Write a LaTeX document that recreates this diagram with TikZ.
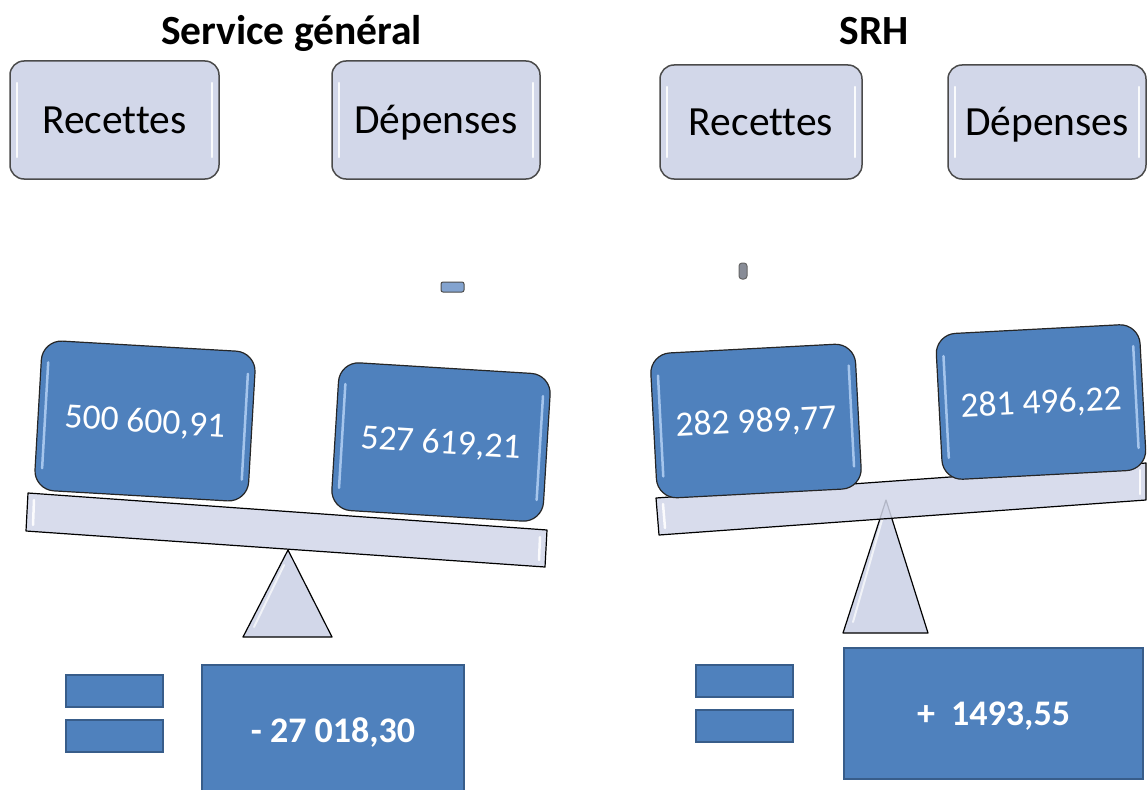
\documentclass[tikz,border=0pt]{standalone}
\usepackage{fontspec}
\setmainfont[Ligatures=NoCommon]{Carlito}
\usetikzlibrary{calc}
\definecolor{lav}{RGB}{210,215,233}
\definecolor{obl}{RGB}{79,129,189}
\definecolor{obd}{RGB}{56,93,138}
\definecolor{hlb}{RGB}{175,205,242}
\definecolor{boxedge}{RGB}{75,75,75}
\newcommand{\glossbox}[6]{%
  \begin{scope}[shift={(#1,#2)}, rotate=#3]
    \draw[#6] ({-#4+7},{-#5+22}) -- ({-#4+7},{#5-22});
    \draw[#6] ({#4-7},{-#5+22}) -- ({#4-7},{#5-22});
  \end{scope}}
\begin{document}
\begin{tikzpicture}[x=1pt,y=-1pt,
  title/.style={font=\bfseries\fontsize{41.5}{48}\selectfont, anchor=base, inner sep=0pt},
  topbox/.style={draw=boxedge, line width=1.5pt, fill=lav, rounded corners=14pt,
    inner sep=0pt, font=\fontsize{41.5}{48}\selectfont, text height=26.5pt, text depth=0pt},
  numbox/.style={draw=black!85, line width=1.2pt, fill=obl, rounded corners=20pt,
    inner sep=0pt, text=white, font=\fontsize{35.5}{42}\selectfont, text height=23pt, text depth=0pt},
  resbox/.style={draw=obd, line width=2pt, fill=obl, inner sep=0pt, text=white,
    font=\bfseries\fontsize{36}{43}\selectfont, text height=23pt, text depth=0pt},
  eqbar/.style={draw=obd, line width=2pt, fill=obl, inner sep=0pt,
    minimum width=97pt, minimum height=32pt},
  tri/.style={draw=black, line width=1.2pt, fill=lav, line join=round},
  beam/.style={draw=black, line width=1.2pt, fill=lav, fill opacity=0.85, line join=round},
  glossw/.style={white, line width=2.5pt, line cap=round, opacity=0.9},
  glossb/.style={hlb, line width=2.5pt, line cap=round, opacity=0.9}
]
\useasboundingbox[fill=white] (0,0) rectangle (1147,789);

% titles
\node[title] (t1) at (291.5,45) {Service général};
\node[title] (t2) at (874,45) {SRH};

% top boxes
\node[topbox, minimum width=209pt, minimum height=118pt] (r1) at (114.5,120) {Recettes};
\node[topbox, minimum width=208pt, minimum height=118pt] (d1) at (436,120) {Dépenses};
\node[topbox, minimum width=202pt, minimum height=114pt] (r2) at (761,122) {Recettes};
\node[topbox, minimum width=198pt, minimum height=114pt] (d2) at (1047,122) {Dépenses};
\glossbox{114.5}{120}{0}{104.5}{59}{glossw}
\glossbox{436}{120}{0}{104}{59}{glossw}
\glossbox{761}{122}{0}{101}{57}{glossw}
\glossbox{1047}{122}{0}{99}{57}{glossw}

% small shapes
\node[draw=black!70, line width=1pt, fill=obl!60!lav, rounded corners=2pt,
  minimum width=23pt, minimum height=10pt, inner sep=0pt] (s1) at (452.5,287) {};
\node[draw=black!60, line width=1pt, fill=black!35!lav, rounded corners=3pt,
  minimum width=8pt, minimum height=16pt, inner sep=0pt] (s2) at (743,271) {};

% fulcrums
\draw[tri] (288,550) -- (332,637) -- (243,637) -- cycle;
\draw[tri] (886,500) -- (928,633) -- (843,633) -- cycle;
\draw[white, line width=2pt, line cap=round, opacity=0.7] (284,565) -- (254,627);
\draw[white, line width=2pt, line cap=round, opacity=0.7] (882,520) -- (853,622);

% beams
\draw[beam] (28,493) -- (547,530) -- (545,567) -- (26,531) -- cycle;
\draw[beam] (656,498) -- (1146,463) -- (1146,500) -- (659,535) -- cycle;
\draw[white, line width=2.5pt, line cap=round, opacity=0.9] (34,500) -- (33,525);
\draw[white, line width=2.5pt, line cap=round, opacity=0.9] (540,537) -- (539,560);
\draw[white, line width=2.5pt, line cap=round, opacity=0.9] (663,504) -- (665,528);
\draw[white, line width=2.5pt, line cap=round, opacity=0.9] (1140,470) -- (1140,494);

% amounts on the scales
\node[numbox, minimum width=214pt, minimum height=150pt, rotate=-3.3] (b1) at (145,421) {500 600,91};
\node[numbox, minimum width=212pt, minimum height=148pt, rotate=-3.5] (b2) at (441,442) {527 619,21};
\node[numbox, minimum width=205pt, minimum height=145pt, rotate=3] (b3) at (756,421) {282 989,77};
\node[numbox, minimum width=204pt, minimum height=146pt, rotate=3] (b4) at (1041,402) {281 496,22};
\glossbox{145}{421}{-3.3}{107}{75}{glossb}
\glossbox{441}{442}{-3.5}{106}{74}{glossb}
\glossbox{756}{421}{3}{102.5}{72.5}{glossb}
\glossbox{1041}{402}{3}{102}{73}{glossb}

% equals signs
\node[eqbar] (e1a) at (114.5,691) {};
\node[eqbar] (e1b) at (114.5,736) {};
\node[eqbar] (e2a) at (744.5,680.5) {};
\node[eqbar] (e2b) at (744.5,725.5) {};

% results
\node[resbox, minimum width=262pt, minimum height=131pt] (res1) at (333,730.5) {-~27~018,30};
\node[resbox, minimum width=299pt, minimum height=131pt] (res2) at (993.5,713.5) {+~~1493,55};
\end{tikzpicture}
\end{document}
